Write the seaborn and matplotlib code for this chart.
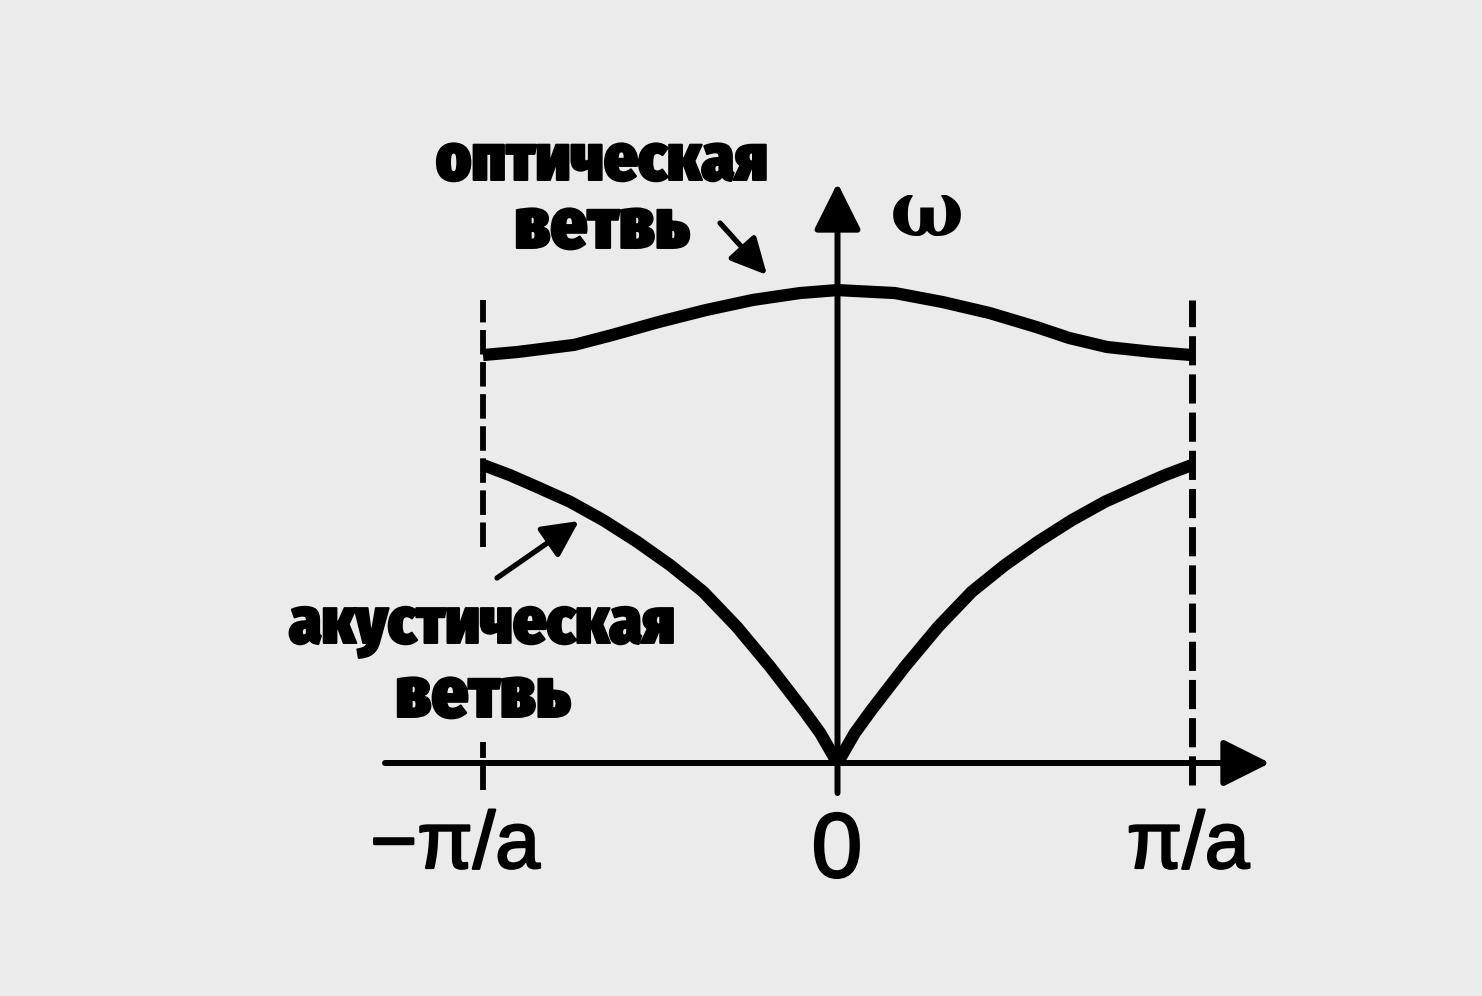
import numpy as np
import pandas as pd
import matplotlib
matplotlib.use("Agg")
import matplotlib.pyplot as plt
import matplotlib.patheffects as pe
from matplotlib import font_manager as fm
from matplotlib.ft2font import FT2Font
import seaborn as sns

# ---------------- data (k in units of pi/a, omega in arbitrary units) -------------
acoustic_k_abs = [0, 0.049, 0.096, 0.190, 0.284, 0.379, 0.472, 0.566, 0.661, 0.755, 0.849, 0.924, 1.0]
acoustic_w = [0, 0.101, 0.178, 0.323, 0.457, 0.575, 0.664, 0.743, 0.815, 0.877, 0.927, 0.966, 1.0]

optical_k = [-1.0, -0.904, -0.743, -0.636, -0.504, -0.371, -0.238, -0.106, 0.0,
             0.162, 0.296, 0.429, 0.561, 0.654, 0.760, 0.893, 1.0]
optical_w = [1.369, 1.379, 1.403, 1.436, 1.480, 1.520, 1.554, 1.577, 1.587,
             1.577, 1.547, 1.510, 1.463, 1.426, 1.396, 1.379, 1.369]

tick_labels = ["\u2212\u03c0/a", "0", "\u03c0/a"]
axis_label = "\u03c9"
optical_label = ["оптическая", "ветвь"]
acoustic_label = ["акустическая", "ветвь"]

# ---------------- frames ----------------
df_ac_left = pd.DataFrame({"k": [-v for v in acoustic_k_abs], "w": acoustic_w})
df_ac_right = pd.DataFrame({"k": acoustic_k_abs, "w": acoustic_w})
df_op = pd.DataFrame({"k": optical_k, "w": optical_w})

sns.set_theme(style="white")
plt.rcParams["font.family"] = ["Liberation Sans", "DejaVu Sans"]

NEEDED = set("".join(optical_label + acoustic_label))

def covers(path):
    try:
        f = FT2Font(path)
        return all(f.get_char_index(ord(c)) != 0 for c in NEEDED)
    except Exception:
        return False

# pick a condensed bold face with Cyrillic if one is installed
def find_condensed_bold():
    best = None
    for f in fm.fontManager.ttflist:
        name = f.name
        stretch = str(f.stretch).lower()
        try:
            w = int(f.weight)
        except Exception:
            w = 700 if "bold" in str(f.weight).lower() else 400
        narrow = ("narrow" in name.lower()) or ("condensed" in name.lower()) or stretch in (
            "condensed", "semi-condensed", "extra-condensed", "ultra-condensed")
        if narrow and w >= 700 and f.style == "normal" and covers(f.fname):
            if best is None or w > best[0]:
                best = (w, f.fname)
    return best[1] if best else None

cond_path = find_condensed_bold()
if cond_path:
    label_fp = fm.FontProperties(fname=cond_path)
else:
    label_fp = fm.FontProperties(family=["Liberation Sans", "DejaVu Sans"], weight="bold")

BG = "#ebebeb"
W, H = 1482, 996
fig = plt.figure(figsize=(W / 100, H / 100), dpi=100, facecolor=BG)
ax = fig.add_axes([0, 0, 1, 1])
ax.set_facecolor(BG)

# pixel mapping: k=-1 -> 483, k=1 -> 1192 ; omega=0 -> 763, omega=1 -> 465
X0, SX = 837.5, 354.5
Y0, SY = 763.0, 298.0
ax.set_xlim(-X0 / SX, (W - X0) / SX)
ax.set_ylim((Y0 - H) / SY, Y0 / SY)
ax.axis("off")

def fpx(x, y):
    return (x / W, 1 - y / H)

LW_CURVE = 8.8
for df in (df_ac_left, df_ac_right, df_op):
    sns.lineplot(data=df, x="k", y="w", ax=ax, color="black", lw=LW_CURVE,
                 sort=False, estimator=None, legend=False,
                 solid_capstyle="butt", solid_joinstyle="round")

# dashed boundaries at +/- pi/a
dash = (0, (4.2, 1.3))
ax.plot([1, 1], [(Y0 - 785) / SY, (Y0 - 300) / SY], color="black", lw=5, linestyle=dash)
ax.plot([-1, -1], [(Y0 - 547) / SY, (Y0 - 300) / SY], color="black", lw=4.2, linestyle=dash)
ax.plot([-1, -1], [(Y0 - 790) / SY, (Y0 - 742) / SY], color="black", lw=4.2, linestyle=dash)

# axes with arrows
axis_arrow = dict(arrowstyle="-|>,head_length=0.4,head_width=0.2", lw=4.3, color="black",
                  mutation_scale=72, shrinkA=0, shrinkB=0)
ax.annotate("", xy=((1270 - X0) / SX, 0), xytext=((385 - X0) / SX, 0), arrowprops=axis_arrow)
ax.annotate("", xy=(0, (Y0 - 183) / SY), xytext=(0, (Y0 - 793) / SY), arrowprops=axis_arrow)

# pointer arrows
ptr = dict(arrowstyle="-|>,head_length=0.5,head_width=0.25", lw=3.8, color="black",
           mutation_scale=44, shrinkA=0, shrinkB=0)
ax.annotate("", xy=fpx(767, 275), xytext=fpx(720, 223), xycoords="figure fraction",
            textcoords="figure fraction", arrowprops=ptr)
ax.annotate("", xy=fpx(579, 521), xytext=fpx(497, 578), xycoords="figure fraction",
            textcoords="figure fraction", arrowprops=ptr)

# tick labels
tick_font = ["Liberation Sans", "DejaVu Sans"]
tick_px = [(455, 868, 58), (837, 877, 66), (1188, 868, 58)]
tick_fx = [pe.withStroke(linewidth=1.6, foreground="black")]
for lab, (x, y, fs) in zip(tick_labels, tick_px):
    fig.text(*fpx(x, y), lab, ha="center", va="baseline", fontsize=fs,
             family=tick_font, color="black", path_effects=tick_fx)

# omega label
fig.text(*fpx(927, 236), axis_label, ha="center", va="baseline", fontsize=56,
         family=["DejaVu Serif"], fontweight="bold", color="black")

# branch labels, sized to the widths seen in the reference
heavy = [pe.withStroke(linewidth=1.4, foreground="black")]
renderer = fig.canvas.get_renderer()
label_specs = [
    (optical_label[0], 602, 180, 332),
    (optical_label[1], 602, 248, 175),
    (acoustic_label[0], 482, 643, 386),
    (acoustic_label[1], 483, 717, 175),
]
for txt, x, y, target_w in label_specs:
    fp = label_fp.copy()
    fp.set_size(58)
    t = fig.text(*fpx(x, y), txt, ha="center", va="baseline", fontproperties=fp,
                 color="black", path_effects=heavy)
    wpx = t.get_window_extent(renderer).width
    fp2 = fp.copy()
    fp2.set_size(min(64, 58 * target_w / wpx))
    t.set_fontproperties(fp2)

fig.savefig("out.png", dpi=100, facecolor=BG)
